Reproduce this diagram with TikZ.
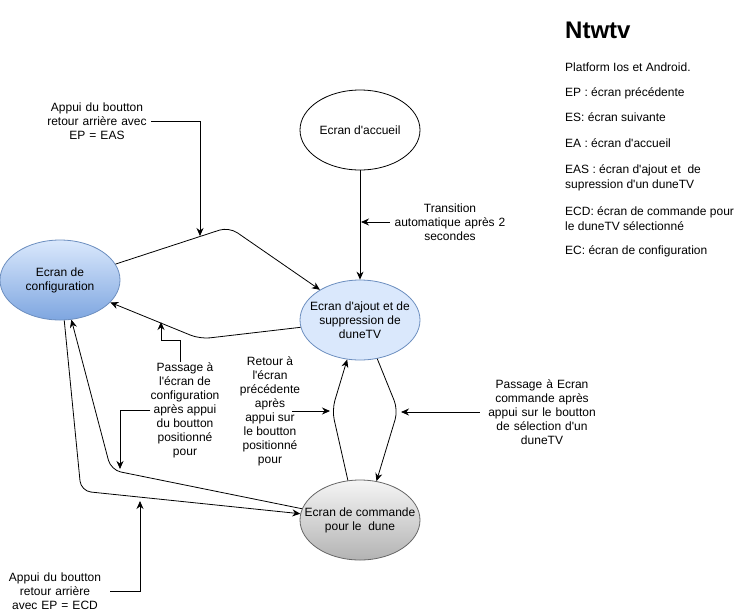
\documentclass[tikz,border=0pt]{standalone}
\usepackage{fontspec}
\setmainfont{Liberation Sans}[Ligatures=TeXOff]
\usetikzlibrary{shapes.geometric,arrows.meta,shadings}
\definecolor{blueF}{HTML}{DAE8FC}
\definecolor{blueD}{HTML}{7EA6E0}
\definecolor{blueS}{HTML}{6C8EBF}
\definecolor{grayT}{HTML}{F5F5F5}
\definecolor{grayB}{HTML}{B3B3B3}
\definecolor{grayS}{HTML}{666666}
\begin{document}
\begin{tikzpicture}[x=1pt,y=-1pt,
 every node/.style={font=\fontsize{12}{14}\selectfont},
 scr/.style={ellipse,draw,line width=0.8pt,minimum width=120pt,minimum height=80pt,inner sep=0pt},
 scrtext/.style={align=center,inner sep=0pt},
 conn/.style={line width=0.8pt,rounded corners=10pt,-{Stealth[length=8pt,width=7pt]}},
 ledge/.style={line width=0.8pt,-{Stealth[length=8pt,width=7pt]}},
 lbl/.style={align=center,inner sep=0pt},
 side/.style={anchor=base west,inner sep=0pt,align=left,font=\fontsize{12}{15}\selectfont}]
\useasboundingbox (0,0) rectangle (751,611);

% screens
\node[scr] (acc) at (360,130) {};
\node[scrtext] (accT) at (acc) {Ecran d'accueil};
\node[scr, top color=blueF, bottom color=blueD, draw=blueS] (conf) at (60,280) {};
\node[scrtext] (confT) at (conf) {Ecran de\\configuration};
\node[scr, fill=blueF, draw=blueS] (aj) at (360,320) {};
\node[scrtext] (ajT) at (aj) {Ecran d'ajout et de\\suppression de\\duneTV};
\node[scr, top color=grayT, bottom color=grayB, draw=grayS] (com) at (360,520) {};
\node[scrtext] (comT) at (com) {Ecran de commande\\pour le\ \ dune};

% transitions
\draw[conn] (acc.south) -- (aj.north);
\coordinate (b2) at (229,227);
\draw[conn] (conf.16) -- (b2) -- (aj.143);
\coordinate (b3) at (200,339);
\draw[conn] (aj.187) -- (b3) -- (conf.336);
\coordinate (b4) at (111,470);
\draw[conn] (com.169) -- (b4) -- (conf.286);
\coordinate (b5) at (81,491);
\draw[conn] (conf.276) -- (b5) -- (com.174);
\coordinate (b6) at (332,410);
\draw[conn] (com.107) -- (b6) -- (aj.252);
\coordinate (b7) at (398,410);
\draw[conn] (aj.294) -- (b7) -- (com.67);

% labels
\node[lbl, text width=108pt] (lEAS) at (97,121) {Appui du boutton\\retour arrière avec\\EP = EAS};
\coordinate (tEAS) at (200,236);
\draw[ledge] (lEAS.east) -| (tEAS);

\node[lbl, text width=120pt] (lTr) at (450,222) {Transition\\automatique après 2\\secondes};
\coordinate (tTr) at (361,222);
\draw[ledge] (lTr.west) -- (tTr);

\node[lbl] (lPC) at (185,410) {Passage à\\l'écran de\\configuration\\après appui\\du boutton\\positionné\\pour};
\coordinate (kPC) at (180,340);
\coordinate (tPC) at (161,322);
\draw[ledge] (lPC.north -| kPC) -- (kPC) -| (tPC);
\coordinate (tPC2) at (120,469);
\draw[ledge] (lPC.west) -| (tPC2);

\node[lbl] (lRet) at (270,411) {Retour à\\l'écran\\précédente\\après\\appui sur\\le boutton\\positionné\\pour};
\coordinate (tRet) at (330,411);
\draw[ledge] ([xshift=-8pt]lRet.east) -- (tRet);

\node[lbl, text width=124pt] (lPE) at (542,412) {Passage à Ecran\\commande après\\appui sur le boutton\\de sélection d'un\\duneTV};
\coordinate (tPE) at (401,412);
\draw[ledge] (lPE.west) -- (tPE);

\node[lbl, text width=110pt] (lECD) at (55,591) {Appui du boutton\\retour arrière\\avec EP = ECD};
\coordinate (tECD) at (140,501);
\draw[ledge] (lECD.east) -| (tECD);

% side panel
\node[anchor=base west, inner sep=0pt, font=\bfseries\fontsize{24}{28}\selectfont] (ttl) at (565,38) {Ntwtv};
\node[side] (s1) at (565,71) {Platform Ios et Android.};
\node[side] (s2) at (565,96) {EP : écran précédente};
\node[side] (s3) at (565,121) {ES: écran suivante};
\node[side] (s4) at (565,147) {EA : écran d'accueil};
\node[side] (s5) at (565,188) {EAS : écran d'ajout et\ \ de\\supression d'un duneTV};
\node[side] (s6) at (565,230) {ECD: écran de commande pour\\le duneTV sélectionné};
\node[side] (s7) at (565,254) {EC: écran de configuration};
\end{tikzpicture}
\end{document}
